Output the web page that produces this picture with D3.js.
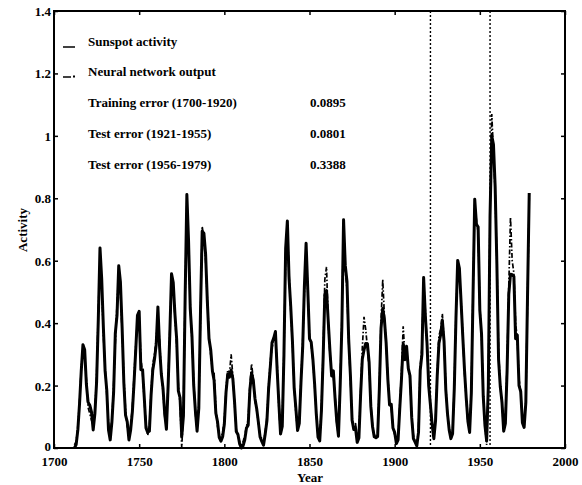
<!DOCTYPE html>
<html><head><meta charset="utf-8">
<script src="https://cdn.jsdelivr.net/npm/d3@7"></script>
<style>body{margin:0;background:#fff}svg{display:block}text{font-family:"Liberation Serif","Times New Roman",serif;font-weight:bold;fill:#000}</style>
</head><body>
<svg id="c" width="582" height="485"></svg>
<script>
const startYear = 1712;
const sunspot = [
0.000,0.011,0.058,0.142,0.247,0.331,0.315,0.205,0.147,0.137,0.116,0.058,0.110,0.210,0.410,0.641,0.542,0.384,0.247,0.184,
0.058,0.026,0.084,0.179,0.368,0.426,0.584,0.531,0.384,0.210,0.105,0.084,0.026,0.058,0.116,0.210,0.315,0.425,0.438,0.251,
0.251,0.161,0.064,0.050,0.054,0.170,0.250,0.284,0.331,0.452,0.322,0.237,0.191,0.110,0.060,0.199,0.367,0.558,0.530,0.429,
0.350,0.183,0.161,0.037,0.104,0.486,0.812,0.662,0.446,0.358,0.202,0.120,0.054,0.127,0.436,0.694,0.688,0.621,0.473,0.350,
0.315,0.247,0.216,0.112,0.084,0.034,0.022,0.036,0.076,0.179,0.237,0.227,0.250,0.222,0.148,0.053,0.043,0.013,0.000,0.007,
0.026,0.064,0.073,0.186,0.241,0.216,0.158,0.126,0.082,0.035,0.021,0.009,0.045,0.087,0.191,0.261,0.338,0.352,0.373,0.251,
0.145,0.045,0.069,0.299,0.639,0.727,0.543,0.451,0.340,0.193,0.127,0.056,0.079,0.211,0.323,0.518,0.656,0.506,0.350,0.339,
0.284,0.205,0.108,0.035,0.023,0.119,0.288,0.493,0.504,0.406,0.311,0.231,0.247,0.160,0.086,0.038,0.198,0.389,0.731,0.585,
0.534,0.348,0.235,0.089,0.059,0.065,0.018,0.032,0.170,0.285,0.314,0.335,0.334,0.274,0.134,0.069,0.036,0.033,0.037,0.187,
0.384,0.447,0.410,0.336,0.220,0.138,0.140,0.064,0.050,0.014,0.026,0.128,0.221,0.334,0.283,0.326,0.255,0.231,0.098,0.030,
0.019,0.007,0.050,0.249,0.300,0.546,0.424,0.334,0.198,0.137,0.075,0.030,0.088,0.233,0.336,0.363,0.409,0.341,0.188,0.111,
0.058,0.030,0.046,0.190,0.419,0.601,0.576,0.467,0.356,0.250,0.161,0.086,0.050,0.175,0.487,0.797,0.717,0.708,0.441,0.365,
0.166,0.073,0.023,0.200,0.745,1.000,0.972,0.836,0.590,0.283,0.197,0.147,0.054,0.079,0.247,0.493,0.557,0.555,0.549,0.350,
0.362,0.200,0.181,0.081,0.066,0.145,0.486,0.817];
const network = [
0.010,0.020,0.070,0.150,0.260,0.320,0.300,0.220,0.130,0.110,0.090,0.070,0.120,0.230,0.440,0.600,0.520,0.360,0.260,0.170,
0.080,0.040,0.090,0.200,0.340,0.460,0.560,0.500,0.370,0.230,0.120,0.070,0.040,0.070,0.130,0.230,0.330,0.410,0.420,0.290,
0.240,0.150,0.080,0.040,0.070,0.180,0.270,0.300,0.350,0.430,0.340,0.240,0.180,0.100,0.070,0.210,0.380,0.540,0.510,0.420,
0.330,0.200,0.140,0.000,0.120,0.500,0.790,0.640,0.460,0.340,0.220,0.110,0.060,0.140,0.420,0.710,0.670,0.600,0.480,0.360,
0.300,0.250,0.240,0.130,0.070,0.040,0.030,0.050,0.090,0.190,0.250,0.240,0.300,0.230,0.140,0.060,0.040,0.020,0.010,0.020,
0.040,0.070,0.090,0.200,0.270,0.220,0.150,0.120,0.080,0.040,0.030,0.020,0.050,0.100,0.200,0.280,0.320,0.350,0.360,0.270,
0.130,0.040,0.080,0.310,0.620,0.700,0.560,0.440,0.330,0.200,0.110,0.060,0.090,0.220,0.340,0.500,0.640,0.500,0.360,0.330,
0.280,0.200,0.110,0.040,0.030,0.130,0.300,0.540,0.580,0.400,0.300,0.240,0.230,0.170,0.080,0.040,0.210,0.410,0.720,0.570,
0.510,0.340,0.220,0.100,0.060,0.080,0.030,0.040,0.180,0.320,0.420,0.380,0.320,0.260,0.140,0.070,0.040,0.040,0.050,0.200,
0.410,0.540,0.420,0.330,0.230,0.140,0.130,0.070,0.040,0.020,0.030,0.140,0.240,0.390,0.300,0.310,0.260,0.220,0.100,0.040,
0.020,0.010,0.060,0.260,0.320,0.530,0.440,0.330,0.210,0.140,0.080,0.040,0.090,0.240,0.360,0.380,0.430,0.340,0.200,0.110,
0.060,0.030,0.050,0.200,0.430,0.590,0.560,0.470,0.360,0.240,0.160,0.080,0.060,0.190,0.500,0.780,0.730,0.690,0.450,0.360,
0.170,0.070,0.010,0.210,0.760,1.070,0.950,0.820,0.600,0.310,0.200,0.140,0.060,0.090,0.270,0.520,0.740,0.600,0.560,0.400,
0.350,0.220,0.180,0.090,0.070,0.150,0.480,0.800];
const xTicks = [1700,1750,1800,1850,1900,1950,2000];
const yTicks = [0,0.2,0.4,0.6,0.8,1,1.2,1.4];
const splitYears = [1921,1956];
const legendLabels = ["Sunspot activity","Neural network output"];
const errorLabels = ["Training error (1700-1920)","Test error (1921-1955)","Test error (1956-1979)"];
const errorValues = ["0.0895","0.0801","0.3388"];

const svg = d3.select("#c");
const L=54,R=565,T=11,B=448;
const x = d3.scaleLinear().domain([1700,2000]).range([L,R]);
const y = d3.scaleLinear().domain([0,1.4]).range([B,T]);
const years = sunspot.map((_,i)=>startYear+i);

// axes
const fmtY = d=> d===0?"0":(d===1?"1":d3.format(".1f")(d));
const ax = svg.append("g").attr("transform",`translate(0,${B})`).call(d3.axisBottom(x).tickValues(xTicks).tickSizeInner(-4).tickSizeOuter(0).tickPadding(9).tickFormat(d3.format("d")));
const ay = svg.append("g").attr("transform",`translate(${L},0)`).call(d3.axisLeft(y).tickValues(yTicks).tickSizeInner(-4).tickSizeOuter(0).tickPadding(3).tickFormat(fmtY));
const at = svg.append("g").attr("transform",`translate(0,${T})`).call(d3.axisTop(x).tickValues(xTicks).tickSizeInner(-4).tickSizeOuter(0).tickFormat(""));
const ar = svg.append("g").attr("transform",`translate(${R},0)`).call(d3.axisRight(y).tickValues(yTicks).tickSizeInner(-4).tickSizeOuter(0).tickFormat(""));
[ax,ay,at,ar].forEach(g=>{g.select(".domain").remove();g.selectAll("line").attr("stroke","#000").attr("stroke-width",1.5);g.selectAll("text").style("font-size","13px").style("font-family","'Liberation Serif',serif").style("font-weight","bold");});
ay.selectAll("text").attr("dy",d=>d===0?"0.2em":"0.35em");
svg.append("rect").attr("x",L).attr("y",T).attr("width",R-L).attr("height",B-T).attr("fill","none").attr("stroke","#000").attr("stroke-width",2);

// split lines
svg.selectAll(".split").data(splitYears).join("line").attr("x1",d=>x(d)).attr("x2",d=>x(d)).attr("y1",T).attr("y2",B)
  .attr("stroke","#000").attr("stroke-width",1.4).attr("stroke-dasharray","2,2");

const line = d3.line().x((d,i)=>x(years[i])).y(d=>y(d));
svg.append("path").datum(sunspot).attr("d",line).attr("fill","none").attr("stroke","#000").attr("stroke-width",3).attr("stroke-linejoin","round");
svg.append("path").datum(network).attr("d",line).attr("fill","none").attr("stroke","#000").attr("stroke-width",1.7).attr("stroke-dasharray","5,2,1.5,2");

// legend
svg.append("line").attr("x1",63).attr("x2",75).attr("y1",47).attr("y2",47).attr("stroke","#000").attr("stroke-width",1.5);
svg.append("line").attr("x1",63).attr("x2",71).attr("y1",77).attr("y2",77).attr("stroke","#000").attr("stroke-width",1.5);
svg.append("rect").attr("x",73).attr("y",75.5).attr("width",2).attr("height",2).attr("fill","#000");
svg.selectAll(".lg").data(legendLabels).join("text").attr("x",88).attr("y",(d,i)=>46+i*30).style("font-size","13px").text(d=>d);
svg.selectAll(".el").data(errorLabels).join("text").attr("x",88).attr("y",(d,i)=>107+i*31).style("font-size","13px").text(d=>d);
svg.selectAll(".ev").data(errorValues).join("text").attr("x",310).attr("y",(d,i)=>107+i*31).style("font-size","13px").text(d=>d);

// axis titles
svg.append("text").attr("x",310).attr("y",482).attr("text-anchor","middle").style("font-size","13px").text("Year");
svg.append("text").attr("transform","translate(27,230) rotate(-90)").attr("text-anchor","middle").style("font-size","13px").text("Activity");
</script>
</body></html>
